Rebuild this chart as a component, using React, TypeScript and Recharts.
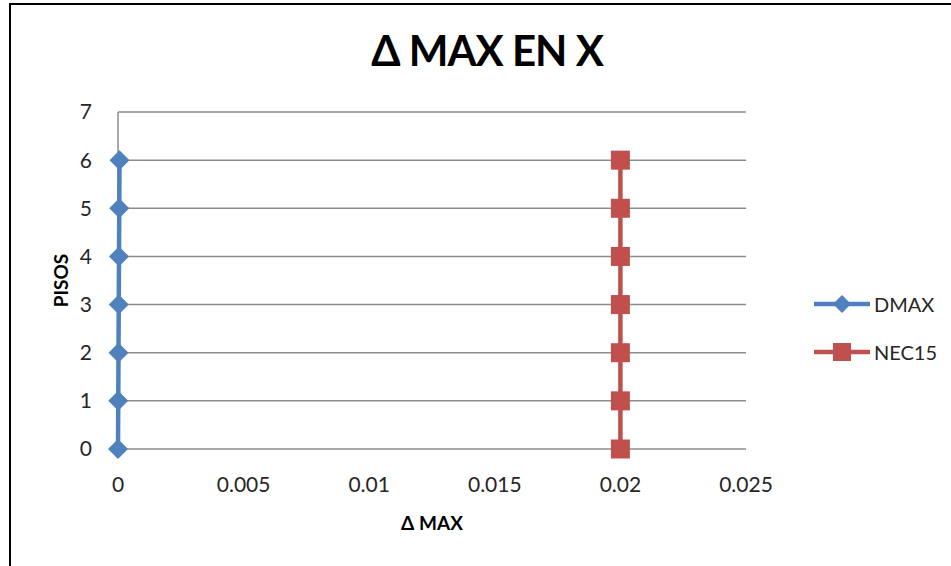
import React from 'react';
import { ScatterChart, Scatter, XAxis, YAxis, CartesianGrid, Legend } from 'recharts';

const pisos = [0, 1, 2, 3, 4, 5, 6];
const dmaxValues = [0, 0.00001, 0.00002, 0.00003, 0.00004, 0.00005, 0.00006];
const nec15Values = [0.02, 0.02, 0.02, 0.02, 0.02, 0.02, 0.02];
const xTicks = [0, 0.005, 0.01, 0.015, 0.02, 0.025];
const yTicks = [0, 1, 2, 3, 4, 5, 6, 7];

const dmaxData = pisos.map((p, i) => ({ x: dmaxValues[i], y: p }));
const nec15Data = pisos.map((p, i) => ({ x: nec15Values[i], y: p }));

const BLUE = '#4f81bd';
const RED = '#c0504d';
const FONT = 'Lato, "Open Sans", sans-serif';

const Diamond = (props: any) => {
  const { cx, cy } = props;
  const r = 10;
  return <polygon points={`${cx},${cy - r} ${cx + r},${cy} ${cx},${cy + r} ${cx - r},${cy}`} fill={BLUE} />;
};

const Square = (props: any) => {
  const { cx, cy } = props;
  const h = 9.5;
  return <rect x={cx - h} y={cy - h} width={h * 2} height={h * 2} fill={RED} />;
};

const LegendContent = () => {
  const items = [
    { name: 'DMAX', color: BLUE, kind: 'diamond' },
    { name: 'NEC15', color: RED, kind: 'square' },
  ];
  return (
    <div style={{ fontFamily: FONT, fontSize: 20, color: '#262626' }}>
      {items.map((it) => (
        <div key={it.name} style={{ display: 'flex', alignItems: 'center', height: 48 }}>
          <svg width={60} height={24} style={{ display: 'block' }}>
            <line x1={2} y1={12} x2={58} y2={12} stroke={it.color} strokeWidth={4.5} />
            {it.kind === 'diamond' ? (
              <polygon points="30,3 39,12 30,21 21,12" fill={it.color} />
            ) : (
              <rect x={21} y={3} width={18} height={18} fill={it.color} />
            )}
          </svg>
          <span style={{ marginLeft: 2 }}>{it.name}</span>
        </div>
      ))}
    </div>
  );
};

export default function App() {
  return (
    <div style={{ position: 'fixed', left: 0, top: 0, width: 951, height: 566, overflow: 'hidden', background: '#fff' }}>
      <div
        style={{
          position: 'absolute',
          left: 9,
          top: 3,
          width: 1000,
          height: 600,
          border: '2px solid #000',
          boxSizing: 'border-box',
        }}
      />
      <div
        style={{
          position: 'absolute',
          left: 0,
          top: 25,
          width: 974,
          textAlign: 'center',
          fontFamily: FONT,
          fontWeight: 700,
          fontSize: 42,
          lineHeight: 1.2,
          color: '#000',
          letterSpacing: -1,
        }}
      >
        Δ MAX EN X
      </div>
      <div style={{ position: 'absolute', left: 0, top: 0 }}>
        <ScatterChart
          width={951}
          height={566}
          margin={{ top: 112, right: 65, bottom: 37, left: 58 }}
          style={{ fontFamily: FONT }}
        >
          <CartesianGrid vertical={false} stroke="#8c8c8c" strokeWidth={1.5} />
          <XAxis
            type="number"
            dataKey="x"
            domain={[0, 0.025]}
            ticks={xTicks}
            height={80}
            axisLine={false}
            tickLine={false}
            tickSize={0}
            tickMargin={28}
            tick={{ fill: '#262626', fontSize: 21 }}
            label={{ value: 'Δ MAX', position: 'insideBottom', offset: -1, fill: '#000', fontSize: 19, fontWeight: 700 }}
          />
          <YAxis
            type="number"
            dataKey="y"
            domain={[0, 7]}
            ticks={yTicks}
            width={60}
            axisLine={{ stroke: '#8c8c8c', strokeWidth: 1.5 }}
            tickLine={false}
            tickSize={0}
            tickMargin={26}
            tick={{ fill: '#262626', fontSize: 21 }}
            label={{
              content: (p: any) => {
                const vb = p.viewBox;
                const x = vb.x + 2;
                const y = vb.y + vb.height / 2;
                return (
                  <text
                    x={x}
                    y={y}
                    transform={`rotate(-90, ${x}, ${y})`}
                    textAnchor="middle"
                    dominantBaseline="central"
                    fontFamily={FONT}
                    fontSize={19}
                    fontWeight={700}
                    fill="#000"
                  >
                    PISOS
                  </text>
                );
              },
            }}
          />
          <Legend
            layout="vertical"
            align="right"
            verticalAlign="top"
            content={<LegendContent />}
            wrapperStyle={{ left: 812, top: 280, width: 140 }}
          />
          <Scatter
            name="DMAX"
            data={dmaxData}
            fill={BLUE}
            line={{ stroke: BLUE, strokeWidth: 4.5 }}
            lineType="joint"
            shape={<Diamond />}
            isAnimationActive={false}
          />
          <Scatter
            name="NEC15"
            data={nec15Data}
            fill={RED}
            line={{ stroke: RED, strokeWidth: 4.5 }}
            lineType="joint"
            shape={<Square />}
            isAnimationActive={false}
          />
        </ScatterChart>
      </div>
    </div>
  );
}
